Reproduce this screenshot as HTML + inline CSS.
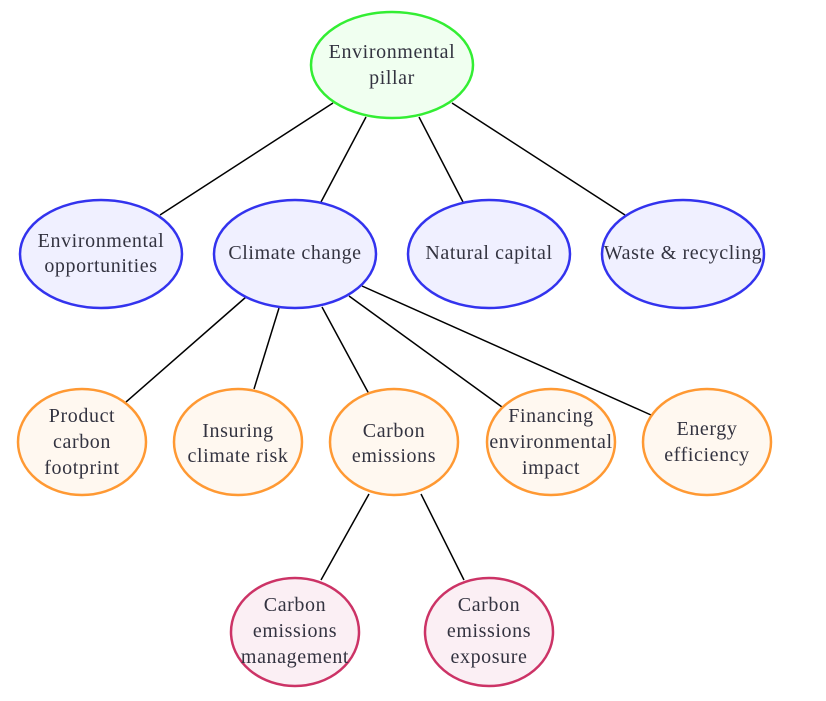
<!DOCTYPE html>
<html><head><meta charset="utf-8"><style>
html,body{margin:0;padding:0;background:#fff;}
svg text{font-family:"Liberation Serif",serif;font-size:20px;letter-spacing:0.6px;fill:#333340;text-anchor:middle;}
</style></head><body>
<svg width="826" height="696" viewBox="0 0 826 696" xmlns="http://www.w3.org/2000/svg">
<g stroke="#000" stroke-width="1.5">
<line x1="333" y1="103" x2="160" y2="215"/>
<line x1="366" y1="117" x2="321" y2="202"/>
<line x1="419" y1="117" x2="463" y2="202"/>
<line x1="452" y1="103" x2="625" y2="215"/>
<line x1="246" y1="297" x2="126" y2="402"/>
<line x1="279" y1="308" x2="254" y2="389"/>
<line x1="322" y1="307" x2="369" y2="394"/>
<line x1="349" y1="296" x2="502" y2="407"/>
<line x1="362" y1="286" x2="651" y2="415"/>
<line x1="369" y1="494" x2="321" y2="580"/>
<line x1="421" y1="494" x2="464" y2="580"/>
</g>
<ellipse cx="392" cy="65" rx="81" ry="53" fill="#f0fff0" stroke="#33ee33" stroke-width="2.5"/>
<g fill="#f0f0ff" stroke="#3333ee" stroke-width="2.5">
<ellipse cx="101" cy="254" rx="81" ry="54"/>
<ellipse cx="295" cy="254" rx="81" ry="54"/>
<ellipse cx="489" cy="254" rx="81" ry="54"/>
<ellipse cx="683" cy="254" rx="81" ry="54"/>
</g>
<g fill="#fff8f0" stroke="#ff9933" stroke-width="2.5">
<ellipse cx="82" cy="442" rx="64" ry="53"/>
<ellipse cx="238" cy="442" rx="64" ry="53"/>
<ellipse cx="394" cy="442" rx="64" ry="53"/>
<ellipse cx="551" cy="442" rx="64" ry="53"/>
<ellipse cx="707" cy="442" rx="64" ry="53"/>
</g>
<g fill="#fbeff4" stroke="#cc3366" stroke-width="2.5">
<ellipse cx="295" cy="632" rx="64" ry="54"/>
<ellipse cx="489" cy="632" rx="64" ry="54"/>
</g>
<text x="392" y="58">Environmental</text><text x="392" y="84">pillar</text>
<text x="101" y="247">Environmental</text><text x="101" y="272">opportunities</text>
<text x="295" y="259">Climate change</text>
<text x="489" y="259">Natural capital</text>
<text x="683" y="259">Waste &amp; recycling</text>
<text x="82" y="422">Product</text><text x="82" y="448">carbon</text><text x="82" y="474">footprint</text>
<text x="238" y="437">Insuring</text><text x="238" y="462">climate risk</text>
<text x="394" y="437">Carbon</text><text x="394" y="462">emissions</text>
<text x="551" y="422">Financing</text><text x="551" y="448">environmental</text><text x="551" y="474">impact</text>
<text x="707" y="435">Energy</text><text x="707" y="461">efficiency</text>
<text x="295" y="611">Carbon</text><text x="295" y="637">emissions</text><text x="295" y="663">management</text>
<text x="489" y="611">Carbon</text><text x="489" y="637">emissions</text><text x="489" y="663">exposure</text>
</svg>
</body></html>
